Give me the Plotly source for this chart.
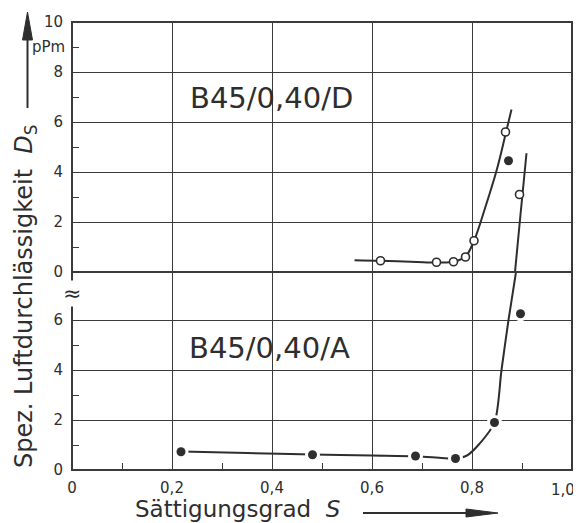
import plotly.graph_objects as go

# ---------------- data ----------------
S_tickvals = [0, 0.2, 0.4, 0.6, 0.8, 1.0]
S_ticktext = ["0", "0,2", "0,4", "0,6", "0,8", "1,0"]
upper_tickvals = [0, 2, 4, 6, 8, 10]
lower_tickvals = [0, 2, 4, 6]

# B45/0,40/D  (open circles, upper panel)
D_S = [0.617, 0.729, 0.763, 0.787, 0.804, 0.867, 0.895]
D_val = [0.45, 0.39, 0.41, 0.60, 1.25, 5.60, 3.10]
curve_D_S = [0.565, 0.617, 0.690, 0.730, 0.763, 0.787, 0.804, 0.826, 0.849, 0.867, 0.879]
curve_D_val = [0.47, 0.45, 0.40, 0.38, 0.41, 0.62, 1.25, 2.55, 4.05, 5.50, 6.50]

# B45/0,40/A  (filled circles, lower panel)
A_S = [0.218, 0.481, 0.687, 0.767, 0.845, 0.897]
A_val = [0.73, 0.61, 0.56, 0.46, 1.90, 6.25]
A_upper_S = [0.873]
A_upper_val = [4.45]
curve_A_S = [0.22, 0.35, 0.48, 0.60, 0.69, 0.767, 0.79, 0.815, 0.845, 0.859, 0.873, 0.888]
curve_A_val = [0.74, 0.68, 0.62, 0.58, 0.55, 0.46, 0.58, 1.05, 1.90, 4.00, 6.00, 7.92]
curve_A_upper_S = [0.886, 0.897, 0.909]
curve_A_upper_val = [0.0, 2.3, 4.75]

# ---------------- style ----------------
INK = "#2e2e2e"
GRID = "#3a3a3a"
FONT = "DejaVu Sans"
SPLIT = 198 / 448  # lower-panel share of plot height

fig = go.Figure()

fig.add_trace(go.Scatter(x=curve_D_S, y=curve_D_val, xaxis="x", yaxis="y2", mode="lines",
                         line=dict(color=INK, width=2, shape="spline", smoothing=1.0),
                         hoverinfo="skip", showlegend=False))
fig.add_trace(go.Scatter(x=curve_A_S, y=curve_A_val, xaxis="x", yaxis="y", mode="lines",
                         line=dict(color=INK, width=2, shape="spline", smoothing=0.8),
                         hoverinfo="skip", showlegend=False, cliponaxis=False))
fig.add_trace(go.Scatter(x=curve_A_upper_S, y=curve_A_upper_val, xaxis="x", yaxis="y2", mode="lines",
                         line=dict(color=INK, width=2, shape="spline", smoothing=0.6),
                         hoverinfo="skip", showlegend=False, cliponaxis=False))
# white halos for filled markers
fig.add_trace(go.Scatter(x=A_S, y=A_val, xaxis="x", yaxis="y", mode="markers",
                         marker=dict(color="white", size=15), hoverinfo="skip", showlegend=False))
fig.add_trace(go.Scatter(x=A_S, y=A_val, xaxis="x", yaxis="y", mode="markers",
                         marker=dict(color=INK, size=9), name="B45/0,40/A", showlegend=False))
fig.add_trace(go.Scatter(x=A_upper_S, y=A_upper_val, xaxis="x", yaxis="y2", mode="markers",
                         marker=dict(color=INK, size=9), showlegend=False))
fig.add_trace(go.Scatter(x=D_S, y=D_val, xaxis="x", yaxis="y2", mode="markers",
                         marker=dict(color="white", size=8, line=dict(color=INK, width=1.6)),
                         name="B45/0,40/D", showlegend=False))

tickfont = dict(family=FONT, size=15, color=INK)

fig.update_layout(
    width=573, height=515,
    margin=dict(l=64, r=9, t=14, b=53, autoexpand=False),
    paper_bgcolor="white", plot_bgcolor="white",
    showlegend=False,
    xaxis=dict(domain=[0, 1], range=[0, 1], anchor="y", automargin=False,
               tickvals=S_tickvals[:-1], ticktext=S_ticktext[:-1], tickfont=tickfont,
               ticklabeloverflow="allow",
               showgrid=True, gridcolor=GRID, gridwidth=1.3, zeroline=False,
               showline=False, ticks="", ticklabelstandoff=7,
               minor=dict(ticks="inside", tickvals=[0.1, 0.3, 0.5, 0.7, 0.9],
                          ticklen=7, tickwidth=1.3, tickcolor=GRID, showgrid=False)),
    yaxis=dict(domain=[0, SPLIT], range=[0, 7.92], anchor="x", automargin=False,
               tickvals=lower_tickvals, tickfont=tickfont, ticklabeloverflow="allow",
               showgrid=True, gridcolor=GRID, gridwidth=1.3, zeroline=False,
               showline=False, ticks="", ticklabelstandoff=8,
               minor=dict(ticks="inside", tickvals=[1, 3, 5],
                          ticklen=7, tickwidth=1.3, tickcolor=GRID, showgrid=False)),
    yaxis2=dict(domain=[SPLIT, 1], range=[0, 10], anchor="x", automargin=False,
                tickvals=upper_tickvals, tickfont=tickfont, ticklabeloverflow="allow",
                showgrid=True, gridcolor=GRID, gridwidth=1.3, zeroline=False,
                showline=False, ticks="", ticklabelstandoff=8,
                minor=dict(ticks="inside", tickvals=[1, 3, 5, 7, 9],
                           ticklen=7, tickwidth=1.3, tickcolor=GRID, showgrid=False)),
    shapes=[
        dict(type="rect", xref="paper", yref="paper", x0=0, x1=1, y0=0, y1=1,
             line=dict(color=GRID, width=2)),
        dict(type="line", xref="paper", yref="paper", x0=0, x1=1, y0=SPLIT, y1=SPLIT,
             line=dict(color=GRID, width=2)),
        # y-axis arrow
        dict(type="line", xref="paper", yref="paper", x0=-0.089, x1=-0.089,
             y0=(470 - 108) / 448, y1=(470 - 38) / 448, line=dict(color=INK, width=2)),
        dict(type="path", xref="paper", yref="paper",
             path="M {a},{b} L {c},{b} L {d},{e} Z".format(a=-0.099, c=-0.079, d=-0.089,
                                                         b=(470 - 40) / 448, e=(470 - 12) / 448),
             fillcolor=INK, line=dict(color=INK, width=1)),
        # x-axis arrow
        dict(type="line", xref="paper", yref="paper", x0=(363 - 72) / 500, x1=(470 - 72) / 500,
             y0=(470 - 513) / 448, y1=(470 - 513) / 448, line=dict(color=INK, width=2)),
        dict(type="path", xref="paper", yref="paper",
             path="M {a},{b} L {a},{c} L {d},{e} Z".format(a=(466 - 72) / 500, d=(498 - 72) / 500,
                                                         b=(470 - 509) / 448, c=(470 - 517) / 448,
                                                         e=(470 - 513) / 448),
             fillcolor=INK, line=dict(color=INK, width=1)),
    ],
    annotations=[
        # last x tick label, kept inside the page edge
        dict(text=S_ticktext[-1], xref="paper", yref="paper", x=(577 - 72) / 500,
             y=(470 - 479) / 448, showarrow=False, font=tickfont,
             xanchor="right", yanchor="top"),
        dict(text="B45/0,40/D", xref="x", yref="y2", x=0.398, y=6.96, showarrow=False,
             font=dict(family=FONT, size=29, color=INK), xanchor="center", yanchor="middle"),
        dict(text="B45/0,40/A", xref="x", yref="y", x=0.394, y=4.88, showarrow=False,
             font=dict(family=FONT, size=29, color=INK), xanchor="center", yanchor="middle"),
        dict(text="pPm", xref="paper", yref="y2", x=-0.011, y=9, showarrow=False,
             font=dict(family=FONT, size=15, color=INK), xanchor="right", yanchor="middle"),
        dict(text="≈", xref="paper", yref="y", x=0.0, y=7.05, showarrow=False,
             font=dict(family=FONT, size=22, color=INK), xanchor="center", yanchor="middle",
             bgcolor="white", borderpad=0),
        dict(text="Spez. Luftdurchlässigkeit  <i>D</i><sub>S</sub>", xref="paper", yref="paper",
             x=(25 - 72) / 500, y=(470 - 297) / 448, textangle=-90, showarrow=False,
             font=dict(family=FONT, size=24, color=INK), xanchor="center", yanchor="middle"),
        dict(text="Sättigungsgrad  <i>S</i>", xref="paper", yref="paper",
             x=(133 - 72) / 500, y=(470 - 509) / 448, showarrow=False,
             font=dict(family=FONT, size=23, color=INK), xanchor="left", yanchor="middle"),
    ],
)

fig.write_html("out.html")
